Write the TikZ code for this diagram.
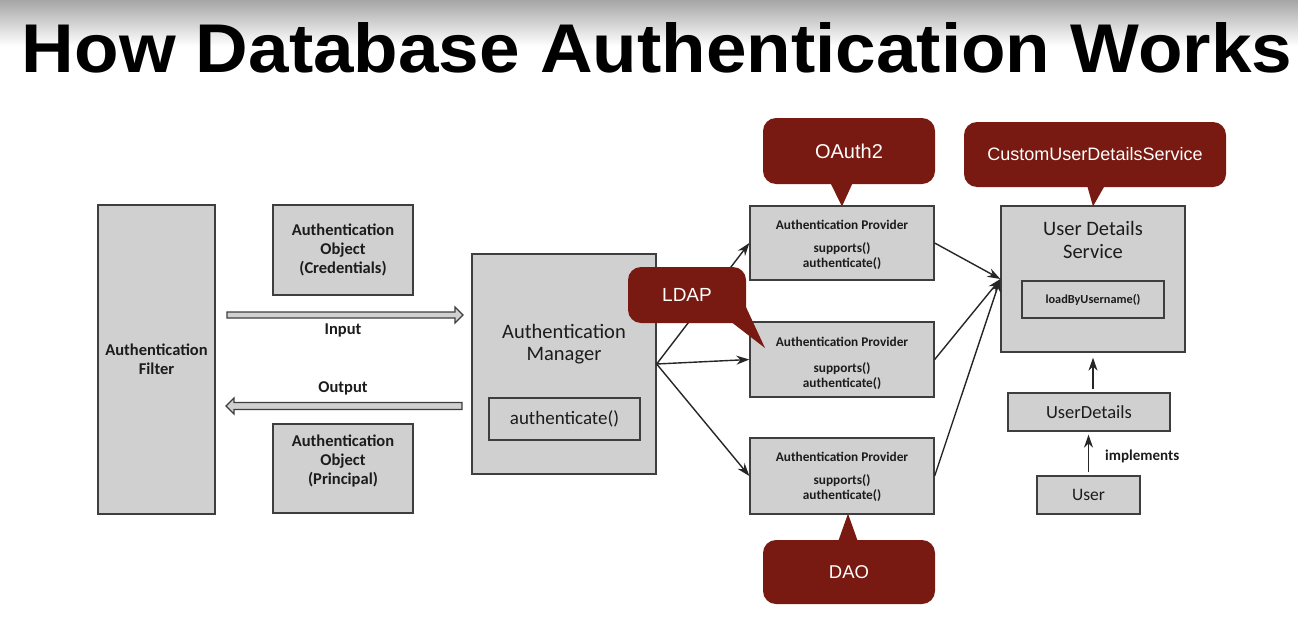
\documentclass[tikz,border=0pt]{standalone}
\usepackage{fontspec}
\setmainfont{Carlito}
\newfontfamily\helv{Liberation Sans}
\usetikzlibrary{arrows.meta}
\definecolor{boxgray}{RGB}{208,208,208}
\definecolor{edgegray}{RGB}{62,62,62}
\definecolor{callred}{RGB}{120,26,17}
\definecolor{txt}{RGB}{28,28,28}
\newcommand{\fs}[2]{\fontsize{#1}{#2}\selectfont}
\begin{document}
\begin{tikzpicture}[x=1pt,y=-1pt,
  box/.style={draw=edgegray, fill=boxgray, line width=1.3pt, inner sep=0pt},
  lbl/.style={text=txt, align=center, inner sep=0pt},
  call/.style={fill=callred, rounded corners=13pt, inner sep=0pt, text=white},
  arr/.style={draw=black!85, line width=1.4pt, -{Stealth[length=13pt,width=9pt]}},
  hollow/.style={draw=edgegray, fill=boxgray, line width=1.1pt, line join=miter}]
\useasboundingbox (0,0) rectangle (1298,616);
\fill[white] (0,0) rectangle (1298,616);
\shade[top color=black!35, bottom color=white] (0,0) rectangle (1298,46);
\node[anchor=base, inner sep=0pt] (title) at (657,72)
  {\resizebox{1270pt}{50pt}{\helv\bfseries How Database Authentication Works}};

% left side
\node[box, lbl, minimum width=117pt, minimum height=309pt, font=\bfseries\fs{16.5}{19}] (filter) at (156.5,359.5) {Authentication\\Filter};
\node[box, lbl, minimum width=140pt, minimum height=90pt, font=\bfseries\fs{16.5}{19}] (cred) at (343,250) {Authentication\\Object\\(Credentials)};
\node[box, minimum width=140pt, minimum height=89pt] (princ) at (343,468.5) {};
\node[lbl, font=\bfseries\fs{16.5}{19}] (princtxt) at (343,461) {Authentication\\Object\\(Principal)};

\coordinate (inS) at (227,315);
\coordinate (inE) at (463,315);
\coordinate (outS) at (462,406);
\coordinate (outE) at (226,406);
\draw[hollow] ([yshift=3pt]inS) -- ([xshift=-8pt,yshift=3pt]inE) -- ([xshift=-8pt,yshift=8pt]inE) -- (inE)
  -- ([xshift=-8pt,yshift=-8pt]inE) -- ([xshift=-8pt,yshift=-3pt]inE) -- ([yshift=-3pt]inS) -- cycle;
\draw[hollow] ([yshift=3.5pt]outS) -- ([xshift=8pt,yshift=3.5pt]outE) -- ([xshift=8pt,yshift=8pt]outE) -- (outE)
  -- ([xshift=8pt,yshift=-8pt]outE) -- ([xshift=8pt,yshift=-3.5pt]outE) -- ([yshift=-3.5pt]outS) -- cycle;
\node[lbl, font=\bfseries\fs{16.5}{18}] (inlbl) at (343,330) {Input};
\node[lbl, font=\bfseries\fs{16.5}{18}] (outlbl) at (343,388) {Output};

% manager
\node[box, minimum width=184pt, minimum height=220pt] (mgr) at (564,364) {};
\node[lbl, font=\fs{20.5}{22}] (mgrtxt) at (564,344) {Authentication\\Manager};
\node[box, lbl, minimum width=151pt, minimum height=42pt, font=\fs{19}{20}] (mgrauth) at (564.5,419) {authenticate()};

% providers
\node[box, minimum width=184pt, minimum height=74pt] (ap1) at (842,243) {};
\node[box, minimum width=184pt, minimum height=75pt] (ap2) at (842,359.5) {};
\node[box, minimum width=184pt, minimum height=76pt] (ap3) at (842,476) {};
\node[lbl, font=\bfseries\fs{13.3}{14}] (ap1t) at (842,225) {Authentication Provider};
\node[lbl, font=\bfseries\fs{13.3}{15}] (ap1m) at (842,256) {supports()\\authenticate()};
\node[lbl, font=\bfseries\fs{13.3}{14}] (ap2t) at (842,342) {Authentication Provider};
\node[lbl, font=\bfseries\fs{13.3}{15}] (ap2m) at (842,376.5) {supports()\\authenticate()};
\node[lbl, font=\bfseries\fs{13.3}{14}] (ap3t) at (842,457) {Authentication Provider};
\node[lbl, font=\bfseries\fs{13.3}{15}] (ap3m) at (842,488.5) {supports()\\authenticate()};

% user details service
\node[box, minimum width=184pt, minimum height=146pt] (uds) at (1093,279) {};
\node[lbl, font=\fs{20.5}{22.5}] (udstxt) at (1093,240) {User Details\\Service};
\node[box, lbl, minimum width=142pt, minimum height=37pt, font=\bfseries\fs{12.3}{14}] (load) at (1093,299.5) {loadByUsername()};
\node[box, lbl, minimum width=162pt, minimum height=38pt, font=\fs{18.5}{20}] (ud) at (1089,412) {UserDetails};
\node[box, lbl, minimum width=103pt, minimum height=38pt, font=\fs{17.5}{20}] (user) at (1088.5,495) {User};
\node[lbl, font=\bfseries\fs{15}{16}, anchor=west] (impl) at (1105,456) {implements};

% connectors
\draw[arr] (mgr.east) -- (ap1.west);
\draw[arr] (mgr.east) -- (ap2.west);
\draw[arr] (mgr.east) -- (ap3.west);
\draw[arr] (ap1.east) -- (uds.west);
\draw[arr] (ap2.east) -- (uds.west);
\draw[arr] (ap3.east) -- (uds.west);
\draw[arr, shorten <=3pt, shorten >=5pt] (ud.north -| uds.south) -- (uds.south);
\draw[arr, shorten <=3pt, shorten >=3pt] (user.north) -- (ud.south -| user.north);

% callouts
\node[call, minimum width=172pt, minimum height=66pt, font=\helv\fs{20}{24}] (oauth) at (849,151) {OAuth2};
\fill[callred] ([xshift=-19pt,yshift=2pt]oauth.south) -- ([yshift=-1pt]ap1.north) -- ([xshift=4pt,yshift=2pt]oauth.south) -- cycle;
\node[call, minimum width=262pt, minimum height=65pt, font=\helv\fs{18}{20}] (cuds) at (1095,154.5) {CustomUserDetailsService};
\fill[callred] ([xshift=-8pt,yshift=2pt]cuds.south) -- ([yshift=-1pt]uds.north) -- ([xshift=10pt,yshift=2pt]cuds.south) -- cycle;
\node[call, minimum width=118pt, minimum height=56pt, font=\helv\fs{19}{22}] (ldap) at (687,295) {LDAP};
\coordinate (ldaptip) at (765,348);
\fill[callred] ([xshift=-16pt,yshift=2pt]ldap.south east) -- (ldaptip) -- ([xshift=-2pt,yshift=20pt]ldap.south east) -- cycle;
\node[call, minimum width=172pt, minimum height=64pt, font=\helv\fs{18.5}{22}] (dao) at (849,572) {DAO};
\fill[callred] ([xshift=-11pt,yshift=-2pt]dao.north) -- ([xshift=6pt,yshift=1pt]ap3.south) -- ([xshift=9pt,yshift=-2pt]dao.north) -- cycle;
\end{tikzpicture}
\end{document}
